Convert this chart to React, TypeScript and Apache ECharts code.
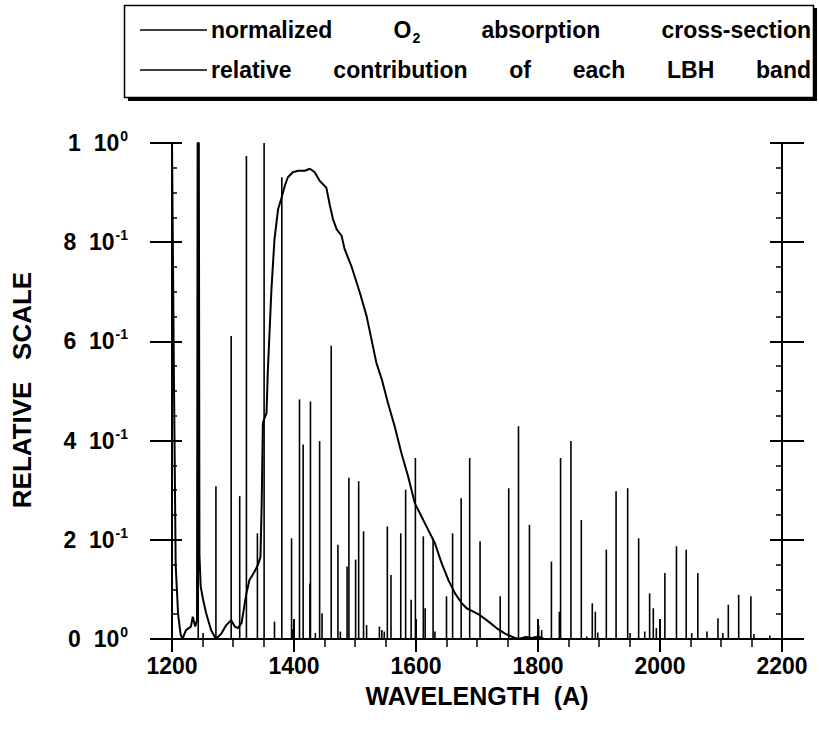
import React, { useEffect, useRef } from 'react';
import * as echarts from 'echarts';

// O2 absorption cross-section (normalized)
const o2Wavelength = [1200, 1203, 1206, 1210, 1214, 1217, 1223, 1231, 1234, 1238, 1241, 1242, 1244, 1245, 1247, 1251, 1256, 1264, 1272, 1281, 1289, 1297, 1303, 1308, 1314, 1322, 1327, 1335, 1341, 1345, 1347, 1349, 1355, 1357, 1363, 1368, 1374, 1379, 1385, 1390, 1398, 1407, 1418, 1426, 1434, 1442, 1453, 1459, 1464, 1470, 1478, 1483, 1494, 1508, 1519, 1527, 1535, 1544, 1554, 1565, 1576, 1587, 1598, 1609, 1620, 1631, 1642, 1653, 1664, 1675, 1683, 1694, 1705, 1719, 1732, 1746, 1760, 1768, 1780, 1790, 1800, 1810, 1830];
const o2Value = [1.0, 0.55, 0.15, 0.05, 0.01, 0.0, 0.018, 0.025, 0.045, 0.025, 0.038, 1.0, 1.0, 0.17, 0.106, 0.079, 0.052, 0.018, 0.0, 0.011, 0.028, 0.038, 0.025, 0.022, 0.032, 0.092, 0.119, 0.135, 0.15, 0.165, 0.27, 0.436, 0.456, 0.537, 0.705, 0.806, 0.867, 0.887, 0.914, 0.931, 0.941, 0.944, 0.944, 0.948, 0.941, 0.924, 0.91, 0.873, 0.846, 0.826, 0.813, 0.786, 0.752, 0.698, 0.651, 0.604, 0.557, 0.523, 0.476, 0.429, 0.375, 0.328, 0.274, 0.247, 0.22, 0.193, 0.153, 0.119, 0.092, 0.072, 0.062, 0.055, 0.048, 0.035, 0.022, 0.011, 0.003, 0.0, 0.004, 0.002, 0.005, 0.0, 0.0];

// LBH band relative contributions
const bandWavelength = [1243, 1251, 1272, 1297, 1311, 1322, 1340, 1351, 1368, 1380, 1396, 1398, 1409, 1415, 1426, 1427, 1435, 1442, 1446, 1461, 1472, 1476, 1487, 1490, 1501, 1506, 1514, 1519, 1540, 1544, 1548, 1553, 1559, 1575, 1583, 1592, 1599, 1612, 1615, 1628, 1631, 1650, 1660, 1674, 1688, 1705, 1738, 1752, 1768, 1786, 1801, 1806, 1822, 1835, 1837, 1854, 1871, 1880, 1889, 1894, 1898, 1912, 1928, 1947, 1951, 1965, 1975, 1983, 1989, 1994, 2008, 2027, 2043, 2052, 2062, 2077, 2095, 2103, 2112, 2129, 2149, 2154, 2180];
const bandValue = [1.0, 0.012, 0.308, 0.611, 0.288, 0.974, 0.213, 1.0, 0.035, 0.931, 0.203, 0.02, 0.483, 0.392, 0.112, 0.479, 0.012, 0.399, 0.052, 0.591, 0.19, 0.015, 0.146, 0.325, 0.16, 0.318, 0.217, 0.028, 0.025, 0.018, 0.015, 0.227, 0.129, 0.213, 0.301, 0.079, 0.365, 0.207, 0.062, 0.203, 0.015, 0.086, 0.213, 0.284, 0.365, 0.197, 0.086, 0.304, 0.429, 0.23, 0.028, 0.018, 0.156, 0.055, 0.365, 0.399, 0.24, 0.005, 0.072, 0.055, 0.013, 0.18, 0.298, 0.304, 0.012, 0.203, 0.015, 0.092, 0.062, 0.022, 0.133, 0.187, 0.18, 0.012, 0.133, 0.015, 0.042, 0.012, 0.069, 0.089, 0.086, 0.01, 0.007];

const xTickLabels = ['1200', '1400', '1600', '1800', '2000', '2200'];
const yTickMantissa = ['0', '2', '4', '6', '8', '1'];
const yTickExponent = ['0', '-1', '-1', '-1', '-1', '0'];

const legendWords1 = ['normalized', 'O|2', 'absorption', 'cross-section'];
const legendWords2 = ['relative', 'contribution', 'of', 'each', 'LBH', 'band'];

const FONT = "'Liberation Sans', Arial, Helvetica, sans-serif";

const W = 819;
const H = 735;
const GRID = { left: 172, top: 143, right: 37, bottom: 96 };

export default function App() {
  const ref = useRef<HTMLDivElement>(null);

  useEffect(() => {
    document.body.style.margin = '0';
    if (!ref.current) return;
    const chart = echarts.init(ref.current, null, { renderer: 'svg' });

    const ctx = document.createElement('canvas').getContext('2d')!;
    const LF = 23;
    const SUBF = 14;
    const measure = (w: string) => {
      if (w.includes('|')) {
        const [a, b] = w.split('|');
        ctx.font = `bold ${LF}px ${FONT}`;
        const wa = ctx.measureText(a).width;
        ctx.font = `bold ${SUBF}px ${FONT}`;
        return wa + ctx.measureText(b).width + 1;
      }
      ctx.font = `bold ${LF}px ${FONT}`;
      return ctx.measureText(w).width;
    };
    const textLeft = 211;
    const textRight = 811;
    const layoutWords = (words: string[], y: number) => {
      const widths = words.map(measure);
      const total = widths.reduce((s, v) => s + v, 0);
      const gap = (textRight - textLeft - total) / (words.length - 1);
      let x = textLeft;
      return words.map((w, i) => {
        const el: any = { type: 'text', x, y, z: 10 };
        if (w.includes('|')) {
          const [a, b] = w.split('|');
          el.style = {
            text: `{a|${a}}{b|${b}}`,
            verticalAlign: 'middle',
            align: 'left',
            rich: {
              a: { fontSize: LF, fontWeight: 'bold', fontFamily: FONT, fill: '#000' },
              b: { fontSize: SUBF, fontWeight: 'bold', fontFamily: FONT, fill: '#000', padding: [15, 0, 0, 1] },
            },
          };
        } else {
          el.style = { text: w, fontSize: LF, fontWeight: 'bold', fontFamily: FONT, fill: '#000', verticalAlign: 'middle', align: 'left' };
        }
        x += widths[i] + gap;
        return el;
      });
    };

    const baseX = { type: 'value', min: 1200, max: 2200, interval: 200, splitLine: { show: false }, axisLine: { show: true, lineStyle: { color: '#000', width: 2 } } };
    const baseY = { type: 'value', min: 0, max: 1, interval: 0.2, splitLine: { show: false }, axisLine: { show: true, lineStyle: { color: '#000', width: 2 } } };
    const tickStyle = { color: '#000', width: 2 };
    const minorStyle = { color: '#000', width: 1.5 };

    const option: any = {
      animation: false,
      backgroundColor: '#fff',
      grid: { ...GRID, containLabel: false },
      xAxis: [
        {
          ...baseX, position: 'bottom',
          axisTick: { show: true, inside: false, length: 12, lineStyle: tickStyle },
          axisLabel: {
            show: true, margin: 15, color: '#000', fontSize: 23, fontWeight: 'bold', fontFamily: FONT,
            formatter: (v: number) => xTickLabels[Math.round((v - 1200) / 200)] ?? '',
          },
        },
        { ...baseX, position: 'bottom', axisTick: { show: true, inside: true, length: 8, lineStyle: tickStyle }, axisLabel: { show: false } },
        { ...baseX, position: 'top', axisTick: { show: true, inside: false, length: 20, lineStyle: tickStyle }, axisLabel: { show: false } },
        {
          ...baseX, position: 'top', axisTick: { show: true, inside: true, length: 13, lineStyle: tickStyle }, axisLabel: { show: false },
          minorTick: { show: true, splitNumber: 4, length: 8, lineStyle: minorStyle },
        },
      ],
      yAxis: [
        {
          ...baseY, position: 'left',
          axisTick: { show: true, inside: false, length: 22, lineStyle: tickStyle },
          axisLabel: {
            show: true, margin: 44, align: 'right', color: '#000',
            formatter: (v: number) => {
              const i = Math.round(v / 0.2);
              return `{m|${yTickMantissa[i]}  10}{s|${yTickExponent[i]}}`;
            },
            rich: {
              m: { fontSize: 23, fontWeight: 'bold', fontFamily: FONT, color: '#000' },
              s: { fontSize: 14, fontWeight: 'bold', fontFamily: FONT, color: '#000', padding: [0, 0, 14, 1] },
            },
          },
        },
        {
          ...baseY, position: 'left', axisTick: { show: true, inside: true, length: 10, lineStyle: tickStyle }, axisLabel: { show: false },
          minorTick: { show: true, splitNumber: 4, length: 5, lineStyle: minorStyle },
        },
        { ...baseY, position: 'right', axisTick: { show: true, inside: false, length: 22, lineStyle: tickStyle }, axisLabel: { show: false } },
        {
          ...baseY, position: 'right', axisTick: { show: true, inside: true, length: 12, lineStyle: tickStyle }, axisLabel: { show: false },
          minorTick: { show: true, splitNumber: 4, length: 6, lineStyle: minorStyle },
        },
      ],
      series: [
        {
          type: 'custom',
          name: 'relative contribution of each LBH band',
          xAxisIndex: 0, yAxisIndex: 0,
          clip: true,
          data: bandWavelength.map((w, i) => [w, bandValue[i]]),
          renderItem: (_p: any, api: any) => {
            const x = api.value(0);
            const y = api.value(1);
            const p0 = api.coord([x, 0]);
            const p1 = api.coord([x, y]);
            return { type: 'line', shape: { x1: p0[0], y1: p0[1], x2: p1[0], y2: p1[1] }, style: { stroke: '#000', lineWidth: 1.6 } };
          },
        },
        {
          type: 'line',
          name: 'normalized O2 absorption cross-section',
          xAxisIndex: 0, yAxisIndex: 0,
          showSymbol: false, symbol: 'none', clip: true,
          lineStyle: { color: '#000', width: 2 },
          data: o2Wavelength.map((w, i) => [w, o2Value[i]]),
        },
      ],
      graphic: [
        { type: 'rect', shape: { x: 128, y: 8, width: 689, height: 93 }, style: { fill: '#000' }, z: 1 },
        { type: 'rect', shape: { x: 124.5, y: 5.5, width: 689, height: 92 }, style: { fill: '#fff', stroke: '#000', lineWidth: 1.5 }, z: 2 },
        { type: 'line', shape: { x1: 140, y1: 30, x2: 207, y2: 30 }, style: { stroke: '#000', lineWidth: 1.5 }, z: 10 },
        { type: 'line', shape: { x1: 140, y1: 70, x2: 207, y2: 70 }, style: { stroke: '#000', lineWidth: 1.5 }, z: 10 },
        ...layoutWords(legendWords1, 30),
        ...layoutWords(legendWords2, 70),
        {
          type: 'text', x: 477, y: 696, z: 10,
          style: { text: 'WAVELENGTH  (A)', fontSize: 25, fontWeight: 'bold', fontFamily: FONT, fill: '#000', align: 'center', verticalAlign: 'middle' },
        },
        {
          type: 'text', x: 22, y: 390, rotation: Math.PI / 2, z: 10,
          style: { text: 'RELATIVE   SCALE', fontSize: 26, fontWeight: 'bold', fontFamily: FONT, fill: '#000', align: 'center', verticalAlign: 'middle' },
        },
      ],
    };

    chart.setOption(option);
    return () => chart.dispose();
  }, []);

  return <div ref={ref} style={{ width: W, height: H }} />;
}
